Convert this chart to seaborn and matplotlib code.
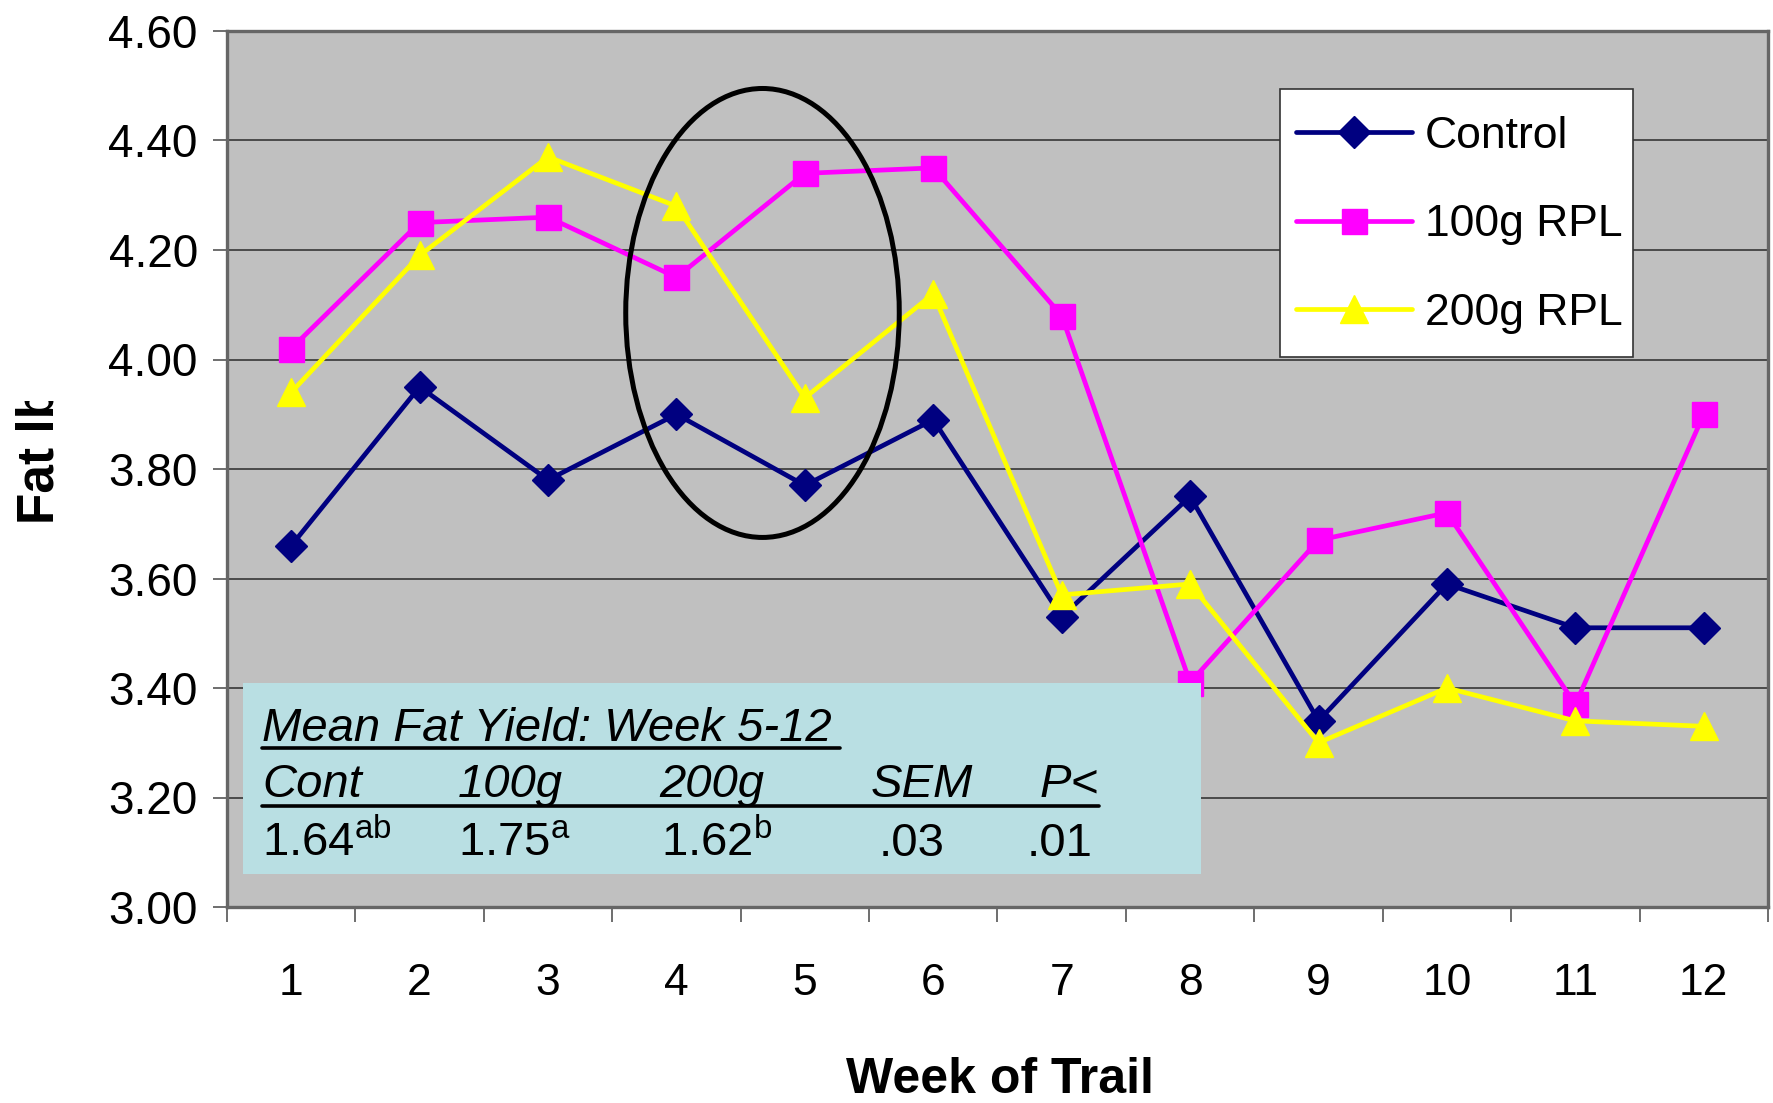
import matplotlib
matplotlib.use("Agg")
import matplotlib.pyplot as plt
import seaborn as sns
import pandas as pd
from matplotlib.patches import Ellipse, Rectangle
from matplotlib.lines import Line2D
from matplotlib.transforms import Bbox
from matplotlib.ticker import FixedLocator, FormatStrFormatter

# ---- data -------------------------------------------------------------
weeks = list(range(1, 13))
control = [3.66, 3.95, 3.78, 3.90, 3.77, 3.89, 3.53, 3.75, 3.34, 3.59, 3.51, 3.51]
rpl_100 = [4.02, 4.25, 4.26, 4.15, 4.34, 4.35, 4.08, 3.41, 3.67, 3.72, 3.37, 3.90]
rpl_200 = [3.94, 4.19, 4.37, 4.28, 3.93, 4.12, 3.57, 3.59, 3.30, 3.40, 3.34, 3.33]

series_names = ["Control", "100g RPL", "200g RPL"]
series_values = [control, rpl_100, rpl_200]
series_colors = ["#000080", "#FF00FF", "#FFFF00"]
series_markers = ["D", "s", "^"]
series_marker_sizes = [16.5, 18, 20]

y_ticks = [3.00, 3.20, 3.40, 3.60, 3.80, 4.00, 4.20, 4.40, 4.60]

summary_title = "Mean Fat Yield: Week 5-12"
summary_headers = ["Cont", "100g", "200g", "SEM", "P<"]
summary_values = ["1.64", "1.75", "1.62", ".03", ".01"]
summary_marks = ["ab", "a", "b", "", ""]

# ---- figure -----------------------------------------------------------
W, H = 1773, 1103
sns.set_theme(style="white")
plt.rcParams["font.family"] = ["Liberation Sans", "DejaVu Sans"]
plt.rcParams["mathtext.fontset"] = "custom"
plt.rcParams["mathtext.rm"] = "Liberation Sans"
plt.rcParams["mathtext.it"] = "Liberation Sans:italic"
for key in ["text.color", "axes.labelcolor", "xtick.color", "ytick.color"]:
    plt.rcParams[key] = "black"

fig = plt.figure(figsize=(W / 100, H / 100), dpi=100)
fig.patch.set_facecolor("white")


def fx(px):
    return px / W


def fy(py):
    return 1 - py / H


ax = fig.add_axes([fx(227), fy(907), fx(1768) - fx(227), fy(31) - fy(907)])
ax.set_facecolor("#C0C0C0")

df = pd.DataFrame({"week": weeks * 3,
                   "fat": control + rpl_100 + rpl_200,
                   "group": sum([[n] * len(weeks) for n in series_names], [])})

for name, color, marker, ms in zip(series_names, series_colors,
                                   series_markers, series_marker_sizes):
    sub = df[df["group"] == name]
    sns.lineplot(data=sub, x="week", y="fat", color=color, marker=marker,
                 markersize=ms, markeredgecolor=color, markeredgewidth=1,
                 linewidth=3.4, ax=ax, legend=False, zorder=3)

ax.set_xlim(0.5, 12.5)
ax.set_ylim(3.0, 4.6)

# y axis
ax.yaxis.set_major_locator(FixedLocator(y_ticks))
ax.yaxis.set_major_formatter(FormatStrFormatter("%.2f"))
ax.grid(axis="y", color="#4a4a4a", linewidth=1.4)
ax.grid(axis="x", visible=False)
ax.set_axisbelow(True)
ax.tick_params(axis="y", which="major", direction="out", length=10,
               width=1.2, color="#555555", labelcolor="black", pad=11,
               labelsize=33, left=True)

# x axis: labels at category centres, tick marks at category boundaries
ax.set_xticks(weeks)
ax.set_xticklabels([str(w) for w in weeks])
ax.set_xticks([w + 0.5 for w in [0] + weeks], minor=True)
ax.tick_params(axis="x", which="major", length=0, pad=40, labelsize=32,
               labelcolor="black")
ax.tick_params(axis="x", which="minor", direction="out", length=11,
               width=1.2, color="#555555", bottom=True)
ax.set_xlabel("")
ax.set_ylabel("")

for side in ["left", "bottom", "top", "right"]:
    ax.spines[side].set_visible(True)
    ax.spines[side].set_color("#666666")
    ax.spines[side].set_linewidth(2.4)

# highlighted weeks
ax.add_patch(Ellipse((4.67, 4.085), 2.13, 0.82, fill=False,
                     edgecolor="black", linewidth=3.6, zorder=4))

# legend: framed box with the entries placed inside it
ax.add_artist(Rectangle((fx(1280), fy(357)), fx(1633) - fx(1280),
                        fy(89) - fy(357), transform=fig.transFigure,
                        facecolor="white", edgecolor="#333333",
                        linewidth=1.2, zorder=4.5))
handles = [Line2D([], [], color=c, marker=m, markersize=s, markeredgecolor=c,
                  linewidth=3.4)
           for c, m, s in zip(series_colors, series_markers, series_marker_sizes)]
leg = ax.legend(handles, series_names, loc="center left",
                bbox_to_anchor=(fx(1296), fy(225)), bbox_transform=fig.transFigure,
                borderaxespad=0, borderpad=0, fontsize=32, frameon=False,
                handlelength=2.6, handletextpad=0.3, labelspacing=1.07)
leg.set_zorder(6)
for t in leg.get_texts():
    t.set_color("black")

# summary box
box = Rectangle((fx(243), fy(874)), fx(1201) - fx(243), fy(683) - fy(874),
                transform=fig.transFigure, facecolor="#B9DFE3",
                edgecolor="none", zorder=5)
fig.add_artist(box)

fig.text(fx(262), fy(741), summary_title, fontsize=34, style="italic",
         ha="left", va="baseline", zorder=6)
fig.add_artist(Line2D([fx(262), fx(840)], [fy(748), fy(748)],
                      transform=fig.transFigure, color="black", linewidth=2.6,
                      zorder=6))

header_x = [262, 458, 659, 871, 1040]
value_x = [262, 458, 661, 879, 1027]
for hx, head in zip(header_x, summary_headers):
    fig.text(fx(hx), fy(797), head, fontsize=34, style="italic",
             ha="left", va="baseline", zorder=6)
fig.add_artist(Line2D([fx(262), fx(1099)], [fy(806), fy(806)],
                      transform=fig.transFigure, color="black", linewidth=2.6,
                      zorder=6))
for vx, val, mark in zip(value_x, summary_values, summary_marks):
    label = val + (r"$^{\mathregular{%s}}$" % mark if mark else "")
    fig.text(fx(vx), fy(856), label, fontsize=34,
             ha="left", va="baseline", zorder=6)

# axis titles
fig.text(fx(1000), fy(1080), "Week of Trail", fontsize=36, fontweight="bold",
         ha="center", va="center")
ylab = fig.text(fx(40), fy(524), "Fat lb", fontsize=37, fontweight="bold",
                rotation=90, rotation_mode="anchor", ha="left", va="center")
ylab.set_clip_box(Bbox.from_extents(0, 0, 200, H - 401))
ylab.set_clip_on(True)

fig.savefig("out.png", dpi=100)
